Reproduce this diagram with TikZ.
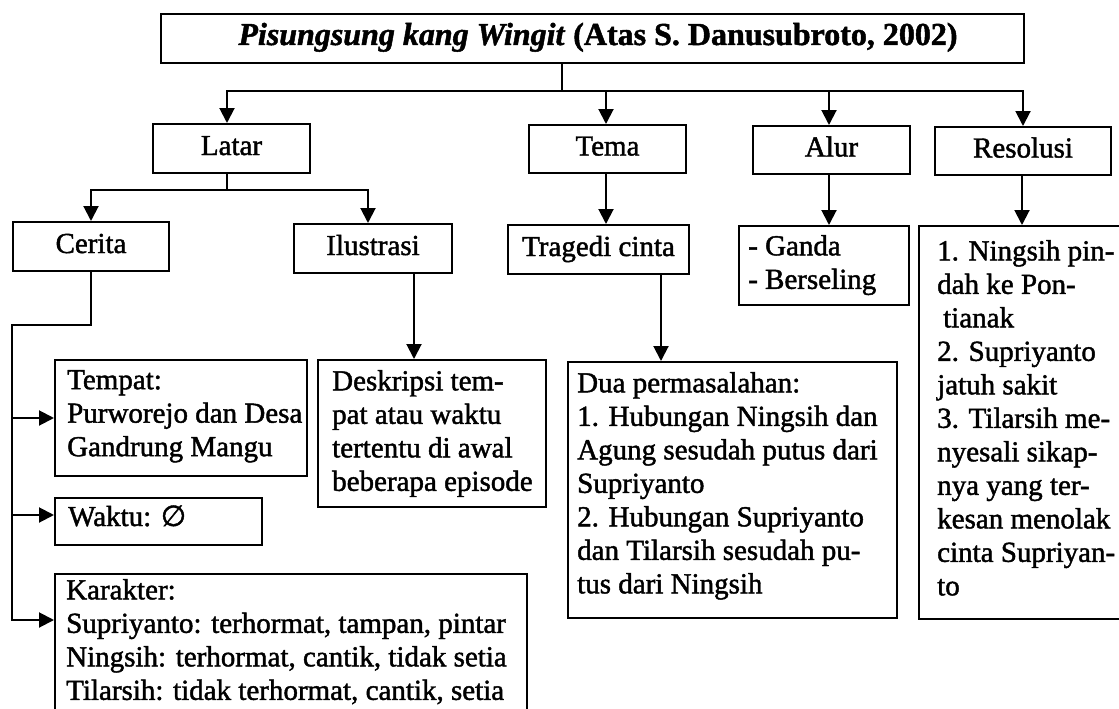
\documentclass[tikz,border=0pt]{standalone}
\usepackage{fontspec}
\setmainfont{Liberation Serif}[FakeBold=1.5]
\newfontfamily\symfont{DejaVu Sans}[FakeBold=1.5]
\usetikzlibrary{arrows.meta}
\begin{document}
\begin{tikzpicture}[x=1pt,y=-1pt,
  bx/.style={draw, line width=2pt, inner sep=0pt, anchor=north west},
  lbl/.style={font=\fontsize{29}{33.5}\selectfont, text height=19pt, text depth=6pt},
  txt/.style={font=\fontsize{29}{33.5}\selectfont, align=left, inner sep=0pt, anchor=north west},
  ln/.style={line width=2pt, line cap=rect},
  arr/.style={line width=2pt, line cap=rect, -{Triangle[length=15pt,width=15pt]}}]
\useasboundingbox (0,0) rectangle (1119,709);

% boxes
\node[bx, minimum width=863pt, minimum height=49pt] (title) at (160,13) {};
\node[font=\fontsize{32}{36}\selectfont\bfseries, inner sep=0pt, anchor=base] (titletext) at (598,45)
  {\textit{Pisungsung kang Wingit} (Atas S. Danusubroto, 2002)};

\node[bx, lbl, minimum width=157pt, minimum height=49pt] (latar) at (152,123) {Latar};
\node[bx, lbl, minimum width=157pt, minimum height=48pt] (tema) at (528,124) {Tema};
\node[bx, lbl, minimum width=157pt, minimum height=48pt] (alur) at (752,125) {Alur};
\node[bx, lbl, minimum width=176pt, minimum height=48pt] (resol) at (934,126) {Resolusi};

\node[bx, lbl, minimum width=156pt, minimum height=49pt] (cerita) at (12,221) {Cerita};
\node[bx, lbl, minimum width=158pt, minimum height=49pt] (ilus) at (293,223) {Ilustrasi};
\node[bx, lbl, minimum width=181pt, minimum height=49pt] (tragedi) at (507,224) {Tragedi cinta};
\node[bx, minimum width=170pt, minimum height=79pt] (ganda) at (738,225) {};
\node[bx, minimum width=220pt, minimum height=393pt] (rescont) at (918,225) {};

\node[bx, minimum width=252pt, minimum height=116pt] (tempat) at (54,359) {};
\node[bx, minimum width=207pt, minimum height=47pt] (waktu) at (54,497) {};
\node[bx, minimum width=472pt, minimum height=160pt] (karakter) at (54,573) {};
\node[bx, minimum width=228pt, minimum height=147pt] (desk) at (317,359) {};
\node[bx, minimum width=329pt, minimum height=256pt] (dua) at (567,361) {};

% texts of the multi-line boxes
\node[txt] (gandatext) at (748,235) {- Ganda\\- Berseling};
\node[txt] (restext) at (937,240) {1. Ningsih pin-\\dah ke Pon-\\\hspace{6pt}tianak\\2. Supriyanto\\jatuh sakit\\3. Tilarsih me-\\nyesali sikap-\\nya yang ter-\\kesan menolak\\cinta Supriyan-\\to};
\node[txt] (tempattext) at (67,370) {Tempat:\\Purworejo dan Desa\\Gandrung Mangu};
\node[lbl, inner sep=0pt, anchor=base west] (waktutext) at (68,526) {Waktu: {\symfont ∅}};
\node[txt] (karaktertext) at (66,579) {Karakter:\\Supriyanto: terhormat, tampan, pintar\\Ningsih: terhormat, cantik, tidak setia\\Tilarsih: tidak terhormat, cantik, setia};
\node[txt] (desktext) at (332,370) {Deskripsi tem-\\pat atau waktu\\tertentu di awal\\beberapa episode};
\node[txt] (duatext) at (577,372) {Dua permasalahan:\\1. Hubungan Ningsih dan\\Agung sesudah putus dari\\Supriyanto\\2. Hubungan Supriyanto\\dan Tilarsih sesudah pu-\\tus dari Ningsih};

% junction points
\coordinate (jt) at (562,91);
\coordinate (jl) at (227,91);
\coordinate (jtema) at (606,91);
\coordinate (jalur) at (829,91);
\coordinate (jres) at (1023,91);

\draw[ln] (jt |- title.south) -- (jt);
\draw[ln] (jl) -- (jres);
\draw[arr] (jl) -- (jl |- latar.north);
\draw[arr] (jtema) -- (jtema |- tema.north);
\draw[arr] (jalur) -- (jalur |- alur.north);
\draw[arr] (jres) -- (jres |- resol.north);

% Latar
\coordinate (jl2) at (227,190);
\coordinate (jcer) at (91,190);
\coordinate (jil) at (368,190);
\draw[ln] (jl2 |- latar.south) -- (jl2);
\draw[ln] (jcer) -- (jil);
\draw[arr] (jcer) -- (jcer |- cerita.north);
\draw[arr] (jil) -- (jil |- ilus.north);

% Cerita
\coordinate (c1) at (91,325);
\coordinate (c2) at (12,325);
\coordinate (c3) at (12,620);
\coordinate (c4) at (12,418);
\coordinate (c5) at (12,515);
\draw[ln] (c1 |- cerita.south) -- (c1) -- (c2) -- (c3);
\draw[arr] (c3) -- (c3 -| karakter.west);
\draw[arr] (c4) -- (c4 -| tempat.west);
\draw[arr] (c5) -- (c5 -| waktu.west);

% Ilustrasi
\coordinate (i1) at (414,300);
\draw[arr] (i1 |- ilus.south) -- (i1 |- desk.north);

% Tema, Tragedi
\coordinate (t1) at (606,200);
\draw[arr] (t1 |- tema.south) -- (t1 |- tragedi.north);
\coordinate (t2) at (661,300);
\draw[arr] (t2 |- tragedi.south) -- (t2 |- dua.north);

% Alur, Resolusi
\coordinate (a1) at (829,200);
\draw[arr] (a1 |- alur.south) -- (a1 |- ganda.north);
\coordinate (r1) at (1022,200);
\draw[arr] (r1 |- resol.south) -- (r1 |- rescont.north);
\end{tikzpicture}
\end{document}
